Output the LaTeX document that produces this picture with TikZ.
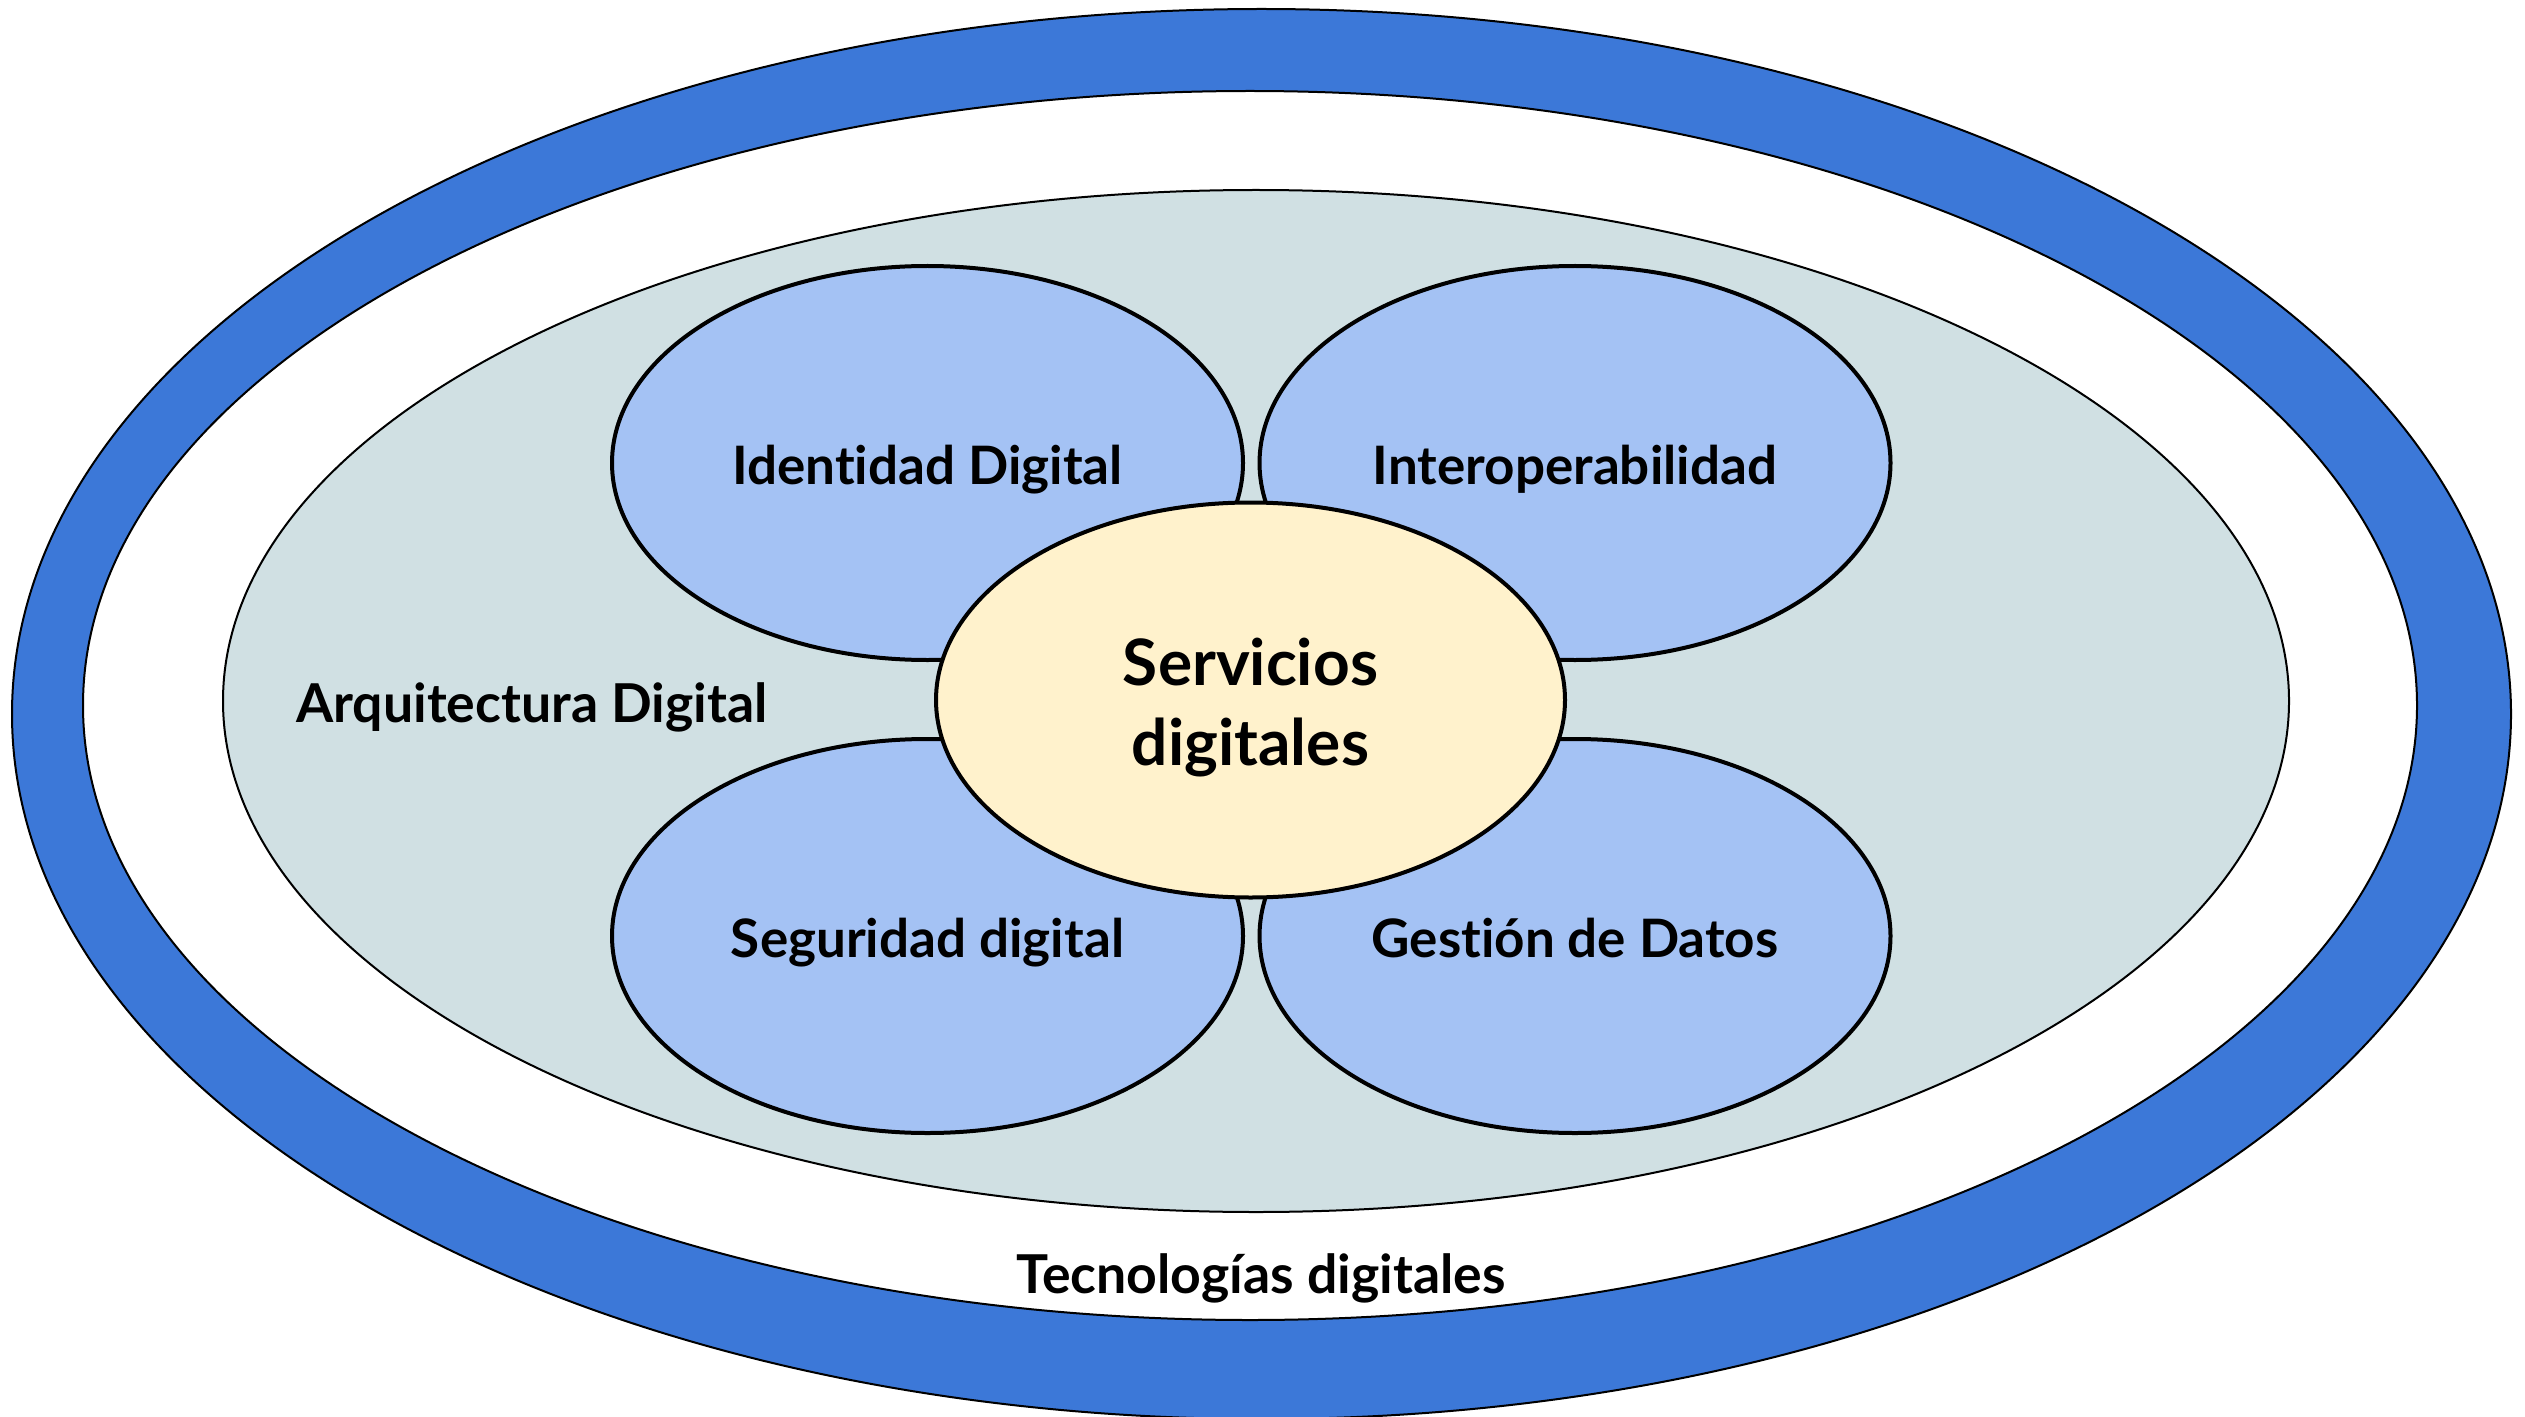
\documentclass[tikz,border=0pt]{standalone}
\usepackage{fontspec}
\setmainfont{Lato}[Ligatures=NoCommon]
\usetikzlibrary{shapes.geometric}
\definecolor{bandblue}{HTML}{3C78D8}
\definecolor{petalblue}{HTML}{A4C2F4}
\definecolor{coreyellow}{HTML}{FFF2CC}
\definecolor{archgray}{HTML}{D0E0E3}
\begin{document}
\begin{tikzpicture}[x=0.5pt,y=-0.5pt,
  ring/.style={ellipse, draw=black, line width=1pt, inner sep=0pt},
  petal/.style={ellipse, draw=black, line width=2pt, fill=petalblue, inner sep=0pt,
    minimum width=315.5pt, minimum height=197pt,
    font=\bfseries\fontsize{26.5}{32}\selectfont, text height=21.5pt, text depth=0pt},
  lbl/.style={font=\bfseries\fontsize{26.8}{32}\selectfont, inner sep=0pt, anchor=base}]
\useasboundingbox (0,0) rectangle (2525,1417);
\node[ring, fill=bandblue, minimum width=1249.5pt, minimum height=705pt] (outer) at (1261.5,714) {};
\node[ring, fill=white, minimum width=1167pt, minimum height=614.5pt] (inner) at (1250,705.5) {};
\node[ring, fill=archgray, minimum width=1033pt, minimum height=511pt] (arch) at (1256,701) {};
\node[petal] (ident) at (927.5,463) {Identidad Digital};
\node[petal] (inter) at (1575,463) {Interoperabilidad};
\node[petal] (segur) at (927.5,936) {Seguridad digital};
\node[petal] (gest) at (1575,936) {Gestión de Datos};
\node[ellipse, draw=black, line width=2pt, fill=coreyellow, inner sep=0pt,
  minimum width=314.5pt, minimum height=197.5pt] (core) at (1250.5,700) {};
\node[align=center, inner sep=0pt, font=\bfseries\fontsize{32}{40}\selectfont]
  (coretext) at (1250.5,708) {Servicios\\digitales};
\node[lbl] (archlbl) at (532,722) {Arquitectura Digital};
\node[lbl] (teclbl) at (1261,1293) {Tecnologías digitales};
\end{tikzpicture}
\end{document}
